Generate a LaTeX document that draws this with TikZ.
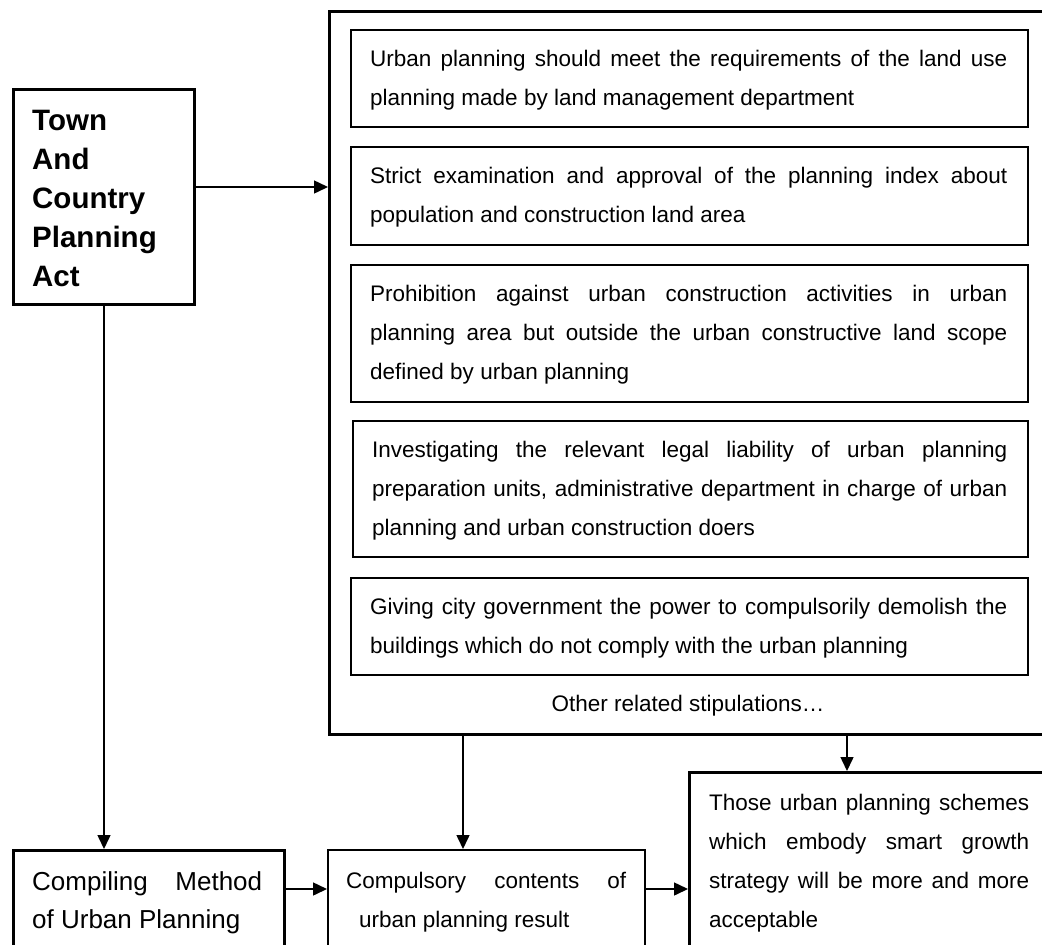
\documentclass[tikz,border=0pt]{standalone}
\usepackage{fontspec}
\setmainfont{Liberation Sans}
\usetikzlibrary{arrows.meta}
\tolerance=10000
\hyphenpenalty=10000
\begin{document}
\begin{tikzpicture}[x=1pt,y=-1pt,
  thickbox/.style={draw, line width=3pt, inner sep=0pt, anchor=north west},
  thinbox/.style={draw, line width=1.5pt, inner sep=0pt, anchor=north west},
  txt/.style={inner sep=0pt, anchor=base west, align=justify, font=\fontsize{22.5}{39}\selectfont},
  arr/.style={line width=1.5pt, -{Triangle[length=14pt,width=13pt]}}]
\useasboundingbox (0,0) rectangle (1042,945);
\clip (0,0) rectangle (1042,945);

% boxes
\node[thickbox, minimum width=181pt, minimum height=215pt] (town) at (12,88) {};
\node[thickbox, minimum width=760pt, minimum height=723pt] (big) at (328,10) {};
\node[thinbox, minimum width=677pt, minimum height=97pt] (b1) at (350,29) {};
\node[thinbox, minimum width=677pt, minimum height=98pt] (b2) at (350,146) {};
\node[thinbox, minimum width=677pt, minimum height=137pt] (b3) at (350,264) {};
\node[thinbox, minimum width=675pt, minimum height=136pt] (b4) at (352,420) {};
\node[thinbox, minimum width=677pt, minimum height=97pt] (b5) at (350,577) {};
\node[thickbox, minimum width=271pt, minimum height=150pt] (comp) at (12,849) {};
\node[thinbox, minimum width=317pt, minimum height=150pt] (cmp) at (327,849) {};
\node[thickbox, minimum width=400pt, minimum height=250pt] (those) at (688,771) {};

% texts
\node[txt, align=left, text width=170pt, font=\fontsize{29.5}{39}\selectfont\bfseries] (ttown) at (32,130) {Town\\And\\Country\\Planning\\Act};
\node[txt, text width=637pt] (t1) at (370,66) {Urban planning should meet the requirements of the land use\linebreak planning made by land management department};
\node[txt, text width=637pt] (t2) at (370,183) {Strict examination and approval of the planning index about\linebreak population and construction land area};
\node[txt, text width=637pt] (t3) at (370,301) {Prohibition against urban construction activities in urban\linebreak planning area but outside the urban constructive land scope\linebreak defined by urban planning};
\node[txt, text width=635pt] (t4) at (372,457) {Investigating the relevant legal liability of urban planning\linebreak preparation units, administrative department in charge of urban\linebreak planning and urban construction doers};
\node[txt, text width=637pt] (t5) at (370,614) {Giving city government the power to compulsorily demolish the\linebreak buildings which do not comply with the urban planning};
\node[inner sep=0pt, anchor=base, font=\fontsize{22.5}{39}\selectfont] (other) at (688,711) {Other related stipulations…};
\node[txt, text width=230pt, font=\fontsize{26}{38}\selectfont] (tcomp) at (32,890) {Compiling Method\linebreak of Urban Planning};
\node[txt, text width=280pt] (tcmp) at (346,888) {Compulsory contents of\linebreak\hspace*{13pt}urban planning result};
\node[txt, text width=320pt] (tthose) at (709,810) {Those urban planning schemes\linebreak which embody smart growth\linebreak strategy will be more and more\linebreak acceptable};

% connectors
\coordinate (a1) at ([yshift=10pt]town.east);
\draw[arr] (a1) -- (a1 -| big.west);
\draw[arr] (town.south) -- (town.south |- comp.north);
\coordinate (a3) at ([yshift=-40pt]comp.north east);
\draw[arr] (a3) -- (a3 -| cmp.west);
\coordinate (a4) at ([xshift=135pt]big.south west);
\draw[arr] (a4) -- (a4 |- cmp.north);
\coordinate (a5) at ([xshift=519pt]big.south west);
\draw[arr] (a5) -- (a5 |- those.north);
\coordinate (a6) at ([yshift=-40pt]cmp.north east);
\draw[arr] (a6) -- (a6 -| those.west);
\end{tikzpicture}
\end{document}
